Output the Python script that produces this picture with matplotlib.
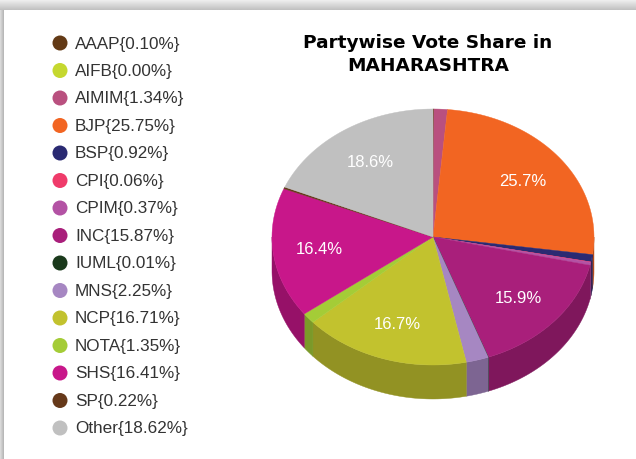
import numpy as np
import matplotlib
matplotlib.use("Agg")
import matplotlib.pyplot as plt
from matplotlib.patches import Polygon, Circle, Rectangle
import matplotlib.colors as mcolors

# ---- data ----
parties = ["AAAP", "AIFB", "AIMIM", "BJP", "BSP", "CPI", "CPIM", "INC",
           "IUML", "MNS", "NCP", "NOTA", "SHS", "SP", "Other"]
shares = [0.10, 0.00, 1.34, 25.75, 0.92, 0.06, 0.37, 15.87,
          0.01, 2.25, 16.71, 1.35, 16.41, 0.22, 18.62]
colors = ["#633a16", "#c5d82f", "#b9507f", "#f26522", "#2a2a72", "#ef3b6a",
          "#b352a4", "#a91f7b", "#1b3a1c", "#a687c2", "#c2c22e", "#a4cc37",
          "#c8178a", "#66391a", "#c0c0c0"]
slice_labels = ["", "", "", "25.7%", "", "", "", "15.9%",
                "", "", "16.7%", "", "16.4%", "", "18.6%"]
legend_labels = [f"{p}{{{v:.2f}%}}" for p, v in zip(parties, shares)]
title_lines = ["Partywise Vote Share in", "MAHARASHTRA"]

W, H = 636, 460
fig = plt.figure(figsize=(W / 100, H / 100), dpi=100)
ax = fig.add_axes([0, 0, 1, 1])
ax.set_xlim(0, W)
ax.set_ylim(H, 0)
ax.axis("off")

# ---- card shadow ----
grad = np.linspace(0.95, 0.76, 11).reshape(-1, 1)
ax.imshow(np.repeat(grad, 2, axis=1), cmap="gray", vmin=0, vmax=1,
          extent=[0, W, 11, 0], aspect="auto", zorder=0)
gradl = np.linspace(0.85, 0.72, 4).reshape(1, -1)
ax.imshow(np.repeat(gradl, 2, axis=0), cmap="gray", vmin=0, vmax=1,
          extent=[0, 4, H, 11], aspect="auto", zorder=0)
ax.add_patch(Rectangle((4, 11), W - 4, H - 11, facecolor="white",
                       edgecolor="none", zorder=0.5))

# ---- 3D pie ----
cx, cy = 433, 238
rx, ry = 161, 128
depth = 34
total = sum(shares)


def pt(theta, r=1.0, dy=0.0):
    return cx + r * rx * np.sin(theta), cy - r * ry * np.cos(theta) + dy


def darker(c, f=0.75):
    r, g, b = mcolors.to_rgb(c)
    return (r * f, g * f, b * f)


cum = 0.0
for v, c, lab in zip(shares, colors, slice_labels):
    a0 = cum / total * 2 * np.pi
    cum += v
    a1 = cum / total * 2 * np.pi
    if v <= 0:
        continue
    # outer wall (front half only: theta in [pi/2, 3pi/2])
    w0, w1 = max(a0, np.pi / 2), min(a1, 3 * np.pi / 2)
    if w1 > w0:
        t = np.linspace(w0, w1, 60)
        xs, ys = pt(t)
        top = np.column_stack([xs, ys])
        bot = np.column_stack([xs[::-1], ys[::-1] + depth])
        ax.add_patch(Polygon(np.vstack([top, bot]), closed=True,
                             facecolor=darker(c), edgecolor=darker(c),
                             linewidth=0.3, zorder=2))
    # top face
    t = np.linspace(a0, a1, max(4, int(200 * v / total) + 4))
    xs, ys = pt(t)
    verts = np.vstack([[cx, cy], np.column_stack([xs, ys])])
    ax.add_patch(Polygon(verts, closed=True, facecolor=c, edgecolor=c,
                         linewidth=0.3, zorder=3))
    if lab:
        am = (a0 + a1) / 2
        lx, ly = pt(am, 0.71)
        ax.text(lx, ly, lab, ha="center", va="center", color="white",
                fontsize=12, family="Liberation Sans", zorder=5)

# ---- title ----
for j, line in enumerate(title_lines):
    ax.text(428, 43 + j * 23, line, ha="center", va="center", fontsize=13.3,
            fontweight="bold", family="DejaVu Sans", color="#000000",
            zorder=5)

# ---- legend ----
y0, dy = 44, 27.5
for i, (lab, c) in enumerate(zip(legend_labels, colors)):
    y = y0 + i * dy
    ax.add_patch(Circle((60, y), 7.5, facecolor=c, edgecolor="none", zorder=5))
    ax.text(75, y, lab, ha="left", va="center", fontsize=12.3,
            family="Liberation Sans", color="#333333", zorder=5)

fig.savefig("out.png", dpi=100)
